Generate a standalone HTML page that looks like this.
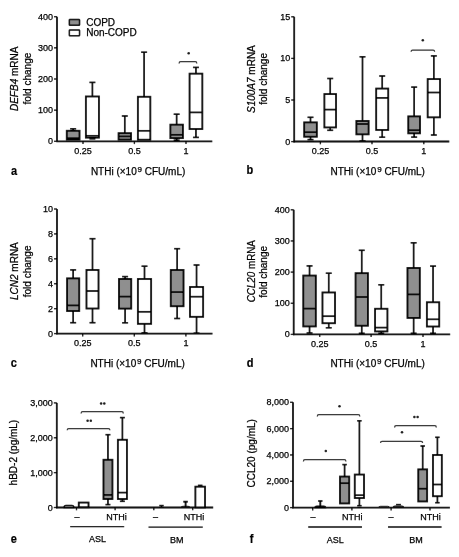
<!DOCTYPE html>
<html><head><meta charset="utf-8"><style>
html,body{margin:0;padding:0;background:#fff;}
svg{display:block;}
text{font-family:"Liberation Sans", sans-serif;fill:#000;stroke:#000;stroke-width:0.25px;}
</style></head><body>
<svg width="459" height="557" viewBox="0 0 459 557">
<defs><filter id="bl" x="0" y="0" width="100%" height="100%" filterUnits="userSpaceOnUse"><feConvolveMatrix order="3" kernelMatrix="0.00027 0.01580 0.00027 0.01580 0.93575 0.01580 0.00027 0.01580 0.00027" divisor="1" edgeMode="duplicate" preserveAlpha="true"/></filter>
<filter id="bt" x="0" y="0" width="100%" height="100%" filterUnits="userSpaceOnUse"><feConvolveMatrix order="3" kernelMatrix="0.00001 0.00381 0.00001 0.00381 0.98471 0.00381 0.00001 0.00381 0.00001" divisor="1" edgeMode="duplicate" preserveAlpha="false"/></filter></defs>
<rect width="459" height="557" fill="#fff"/>
<g filter="url(#bl)">
<rect width="459" height="557" fill="#fff"/>
<line x1="57.00" y1="16.70" x2="57.00" y2="142.05" stroke="#000" stroke-width="1.8"/>
<line x1="54.00" y1="16.70" x2="57.00" y2="16.70" stroke="#000" stroke-width="1.3"/>
<line x1="54.00" y1="47.85" x2="57.00" y2="47.85" stroke="#000" stroke-width="1.3"/>
<line x1="54.00" y1="79.00" x2="57.00" y2="79.00" stroke="#000" stroke-width="1.3"/>
<line x1="54.00" y1="110.15" x2="57.00" y2="110.15" stroke="#000" stroke-width="1.3"/>
<line x1="54.00" y1="141.30" x2="57.00" y2="141.30" stroke="#000" stroke-width="1.3"/>
<line x1="56.25" y1="141.30" x2="212.30" y2="141.30" stroke="#000" stroke-width="1.8"/>
<line x1="83.00" y1="141.30" x2="83.00" y2="144.10" stroke="#000" stroke-width="1.3"/>
<line x1="134.40" y1="141.30" x2="134.40" y2="144.10" stroke="#000" stroke-width="1.3"/>
<line x1="186.00" y1="141.30" x2="186.00" y2="144.10" stroke="#000" stroke-width="1.3"/>
<rect x="69.35" y="19.45" width="10.2" height="5.8" rx="0.6" fill="#8f8f8f" stroke="#000" stroke-width="1.5"/>
<rect x="69.35" y="29.95" width="10.2" height="5.8" rx="0.6" fill="#fff" stroke="#000" stroke-width="1.5"/>
<line x1="73.15" y1="128.80" x2="73.15" y2="130.78" stroke="#000" stroke-width="1.7"/>
<line x1="70.15" y1="128.80" x2="76.15" y2="128.80" stroke="#000" stroke-width="1.6"/>
<rect x="66.78" y="130.78" width="12.75" height="8.85" fill="#8f8f8f" stroke="#000" stroke-width="1.85"/>
<line x1="66.78" y1="138.20" x2="79.52" y2="138.20" stroke="#000" stroke-width="1.7"/>
<line x1="92.40" y1="82.40" x2="92.40" y2="96.48" stroke="#000" stroke-width="1.7"/>
<line x1="89.40" y1="82.40" x2="95.40" y2="82.40" stroke="#000" stroke-width="1.6"/>
<line x1="92.40" y1="137.62" x2="92.40" y2="138.80" stroke="#000" stroke-width="1.7"/>
<line x1="89.40" y1="138.80" x2="95.40" y2="138.80" stroke="#000" stroke-width="1.6"/>
<rect x="85.88" y="96.48" width="13.05" height="41.15" fill="#fff" stroke="#000" stroke-width="1.85"/>
<line x1="85.88" y1="135.80" x2="98.92" y2="135.80" stroke="#000" stroke-width="1.7"/>
<line x1="124.80" y1="116.00" x2="124.80" y2="133.18" stroke="#000" stroke-width="1.7"/>
<line x1="121.80" y1="116.00" x2="127.80" y2="116.00" stroke="#000" stroke-width="1.6"/>
<rect x="118.58" y="133.18" width="12.45" height="6.45" fill="#8f8f8f" stroke="#000" stroke-width="1.85"/>
<line x1="118.58" y1="136.40" x2="131.02" y2="136.40" stroke="#000" stroke-width="1.7"/>
<line x1="144.10" y1="52.20" x2="144.10" y2="96.78" stroke="#000" stroke-width="1.7"/>
<line x1="141.10" y1="52.20" x2="147.10" y2="52.20" stroke="#000" stroke-width="1.6"/>
<rect x="137.88" y="96.78" width="12.45" height="42.95" fill="#fff" stroke="#000" stroke-width="1.85"/>
<line x1="137.88" y1="130.80" x2="150.32" y2="130.80" stroke="#000" stroke-width="1.7"/>
<line x1="176.65" y1="114.20" x2="176.65" y2="124.67" stroke="#000" stroke-width="1.7"/>
<line x1="173.65" y1="114.20" x2="179.65" y2="114.20" stroke="#000" stroke-width="1.6"/>
<line x1="176.65" y1="138.12" x2="176.65" y2="140.20" stroke="#000" stroke-width="1.7"/>
<line x1="173.65" y1="140.20" x2="179.65" y2="140.20" stroke="#000" stroke-width="1.6"/>
<rect x="170.38" y="124.67" width="12.55" height="13.45" fill="#8f8f8f" stroke="#000" stroke-width="1.85"/>
<line x1="170.38" y1="134.80" x2="182.92" y2="134.80" stroke="#000" stroke-width="1.7"/>
<line x1="195.95" y1="67.40" x2="195.95" y2="73.67" stroke="#000" stroke-width="1.7"/>
<line x1="192.95" y1="67.40" x2="198.95" y2="67.40" stroke="#000" stroke-width="1.6"/>
<line x1="195.95" y1="129.02" x2="195.95" y2="137.40" stroke="#000" stroke-width="1.7"/>
<line x1="192.95" y1="137.40" x2="198.95" y2="137.40" stroke="#000" stroke-width="1.6"/>
<rect x="189.58" y="73.67" width="12.75" height="55.35" fill="#fff" stroke="#000" stroke-width="1.85"/>
<line x1="189.58" y1="112.40" x2="202.32" y2="112.40" stroke="#000" stroke-width="1.7"/>
<path d="M179.10,63.50 Q179.10,61.70 180.60,61.70 L195.30,61.70 Q196.80,61.70 196.80,63.50" fill="none" stroke="#2a2a2a" stroke-width="1.25"/>
<circle cx="188.70" cy="53.30" r="1.25" fill="#111"/>
<line x1="294.20" y1="16.80" x2="294.20" y2="142.35" stroke="#000" stroke-width="1.8"/>
<line x1="291.20" y1="16.80" x2="294.20" y2="16.80" stroke="#000" stroke-width="1.3"/>
<line x1="291.20" y1="58.40" x2="294.20" y2="58.40" stroke="#000" stroke-width="1.3"/>
<line x1="291.20" y1="100.00" x2="294.20" y2="100.00" stroke="#000" stroke-width="1.3"/>
<line x1="291.20" y1="141.60" x2="294.20" y2="141.60" stroke="#000" stroke-width="1.3"/>
<line x1="293.45" y1="141.50" x2="449.30" y2="141.50" stroke="#000" stroke-width="1.8"/>
<line x1="320.40" y1="141.50" x2="320.40" y2="144.30" stroke="#000" stroke-width="1.3"/>
<line x1="372.00" y1="141.50" x2="372.00" y2="144.30" stroke="#000" stroke-width="1.3"/>
<line x1="423.80" y1="141.50" x2="423.80" y2="144.30" stroke="#000" stroke-width="1.3"/>
<line x1="310.50" y1="117.30" x2="310.50" y2="122.38" stroke="#000" stroke-width="1.7"/>
<line x1="307.50" y1="117.30" x2="313.50" y2="117.30" stroke="#000" stroke-width="1.6"/>
<line x1="310.50" y1="136.72" x2="310.50" y2="139.60" stroke="#000" stroke-width="1.7"/>
<line x1="307.50" y1="139.60" x2="313.50" y2="139.60" stroke="#000" stroke-width="1.6"/>
<rect x="304.18" y="122.38" width="12.65" height="14.35" fill="#8f8f8f" stroke="#000" stroke-width="1.85"/>
<line x1="304.18" y1="132.20" x2="316.82" y2="132.20" stroke="#000" stroke-width="1.7"/>
<line x1="330.20" y1="78.50" x2="330.20" y2="94.08" stroke="#000" stroke-width="1.7"/>
<line x1="327.20" y1="78.50" x2="333.20" y2="78.50" stroke="#000" stroke-width="1.6"/>
<line x1="330.20" y1="127.42" x2="330.20" y2="130.30" stroke="#000" stroke-width="1.7"/>
<line x1="327.20" y1="130.30" x2="333.20" y2="130.30" stroke="#000" stroke-width="1.6"/>
<rect x="324.38" y="94.08" width="11.65" height="33.35" fill="#fff" stroke="#000" stroke-width="1.85"/>
<line x1="324.38" y1="109.60" x2="336.03" y2="109.60" stroke="#000" stroke-width="1.7"/>
<line x1="362.50" y1="56.80" x2="362.50" y2="120.98" stroke="#000" stroke-width="1.7"/>
<line x1="359.50" y1="56.80" x2="365.50" y2="56.80" stroke="#000" stroke-width="1.6"/>
<line x1="362.50" y1="134.32" x2="362.50" y2="140.80" stroke="#000" stroke-width="1.7"/>
<line x1="359.50" y1="140.80" x2="365.50" y2="140.80" stroke="#000" stroke-width="1.6"/>
<rect x="356.38" y="120.98" width="12.25" height="13.35" fill="#8f8f8f" stroke="#000" stroke-width="1.85"/>
<line x1="356.38" y1="124.00" x2="368.62" y2="124.00" stroke="#000" stroke-width="1.7"/>
<line x1="382.20" y1="76.00" x2="382.20" y2="88.58" stroke="#000" stroke-width="1.7"/>
<line x1="379.20" y1="76.00" x2="385.20" y2="76.00" stroke="#000" stroke-width="1.6"/>
<line x1="382.20" y1="129.92" x2="382.20" y2="137.20" stroke="#000" stroke-width="1.7"/>
<line x1="379.20" y1="137.20" x2="385.20" y2="137.20" stroke="#000" stroke-width="1.6"/>
<rect x="376.18" y="88.58" width="12.05" height="41.35" fill="#fff" stroke="#000" stroke-width="1.85"/>
<line x1="376.18" y1="97.90" x2="388.23" y2="97.90" stroke="#000" stroke-width="1.7"/>
<line x1="414.15" y1="87.10" x2="414.15" y2="116.38" stroke="#000" stroke-width="1.7"/>
<line x1="411.15" y1="87.10" x2="417.15" y2="87.10" stroke="#000" stroke-width="1.6"/>
<line x1="414.15" y1="133.32" x2="414.15" y2="137.10" stroke="#000" stroke-width="1.7"/>
<line x1="411.15" y1="137.10" x2="417.15" y2="137.10" stroke="#000" stroke-width="1.6"/>
<rect x="408.27" y="116.38" width="11.75" height="16.95" fill="#8f8f8f" stroke="#000" stroke-width="1.85"/>
<line x1="408.27" y1="130.20" x2="420.03" y2="130.20" stroke="#000" stroke-width="1.7"/>
<line x1="433.85" y1="55.90" x2="433.85" y2="79.08" stroke="#000" stroke-width="1.7"/>
<line x1="430.85" y1="55.90" x2="436.85" y2="55.90" stroke="#000" stroke-width="1.6"/>
<line x1="433.85" y1="117.33" x2="433.85" y2="135.00" stroke="#000" stroke-width="1.7"/>
<line x1="430.85" y1="135.00" x2="436.85" y2="135.00" stroke="#000" stroke-width="1.6"/>
<rect x="427.68" y="79.08" width="12.35" height="38.25" fill="#fff" stroke="#000" stroke-width="1.85"/>
<line x1="427.68" y1="92.50" x2="440.03" y2="92.50" stroke="#000" stroke-width="1.7"/>
<path d="M411.10,51.80 Q411.10,50.00 412.60,50.00 L433.10,50.00 Q434.60,50.00 434.60,51.80" fill="none" stroke="#2a2a2a" stroke-width="1.25"/>
<circle cx="422.80" cy="40.30" r="1.25" fill="#111"/>
<g transform="translate(0,0.4)">
<line x1="57.00" y1="208.60" x2="57.00" y2="333.95" stroke="#000" stroke-width="1.8"/>
<line x1="54.00" y1="208.60" x2="57.00" y2="208.60" stroke="#000" stroke-width="1.3"/>
<line x1="54.00" y1="233.52" x2="57.00" y2="233.52" stroke="#000" stroke-width="1.3"/>
<line x1="54.00" y1="258.44" x2="57.00" y2="258.44" stroke="#000" stroke-width="1.3"/>
<line x1="54.00" y1="283.36" x2="57.00" y2="283.36" stroke="#000" stroke-width="1.3"/>
<line x1="54.00" y1="308.28" x2="57.00" y2="308.28" stroke="#000" stroke-width="1.3"/>
<line x1="54.00" y1="333.20" x2="57.00" y2="333.20" stroke="#000" stroke-width="1.3"/>
<line x1="56.25" y1="333.20" x2="212.50" y2="333.20" stroke="#000" stroke-width="1.8"/>
<line x1="82.70" y1="333.20" x2="82.70" y2="336.00" stroke="#000" stroke-width="1.3"/>
<line x1="134.30" y1="333.20" x2="134.30" y2="336.00" stroke="#000" stroke-width="1.3"/>
<line x1="185.90" y1="333.20" x2="185.90" y2="336.00" stroke="#000" stroke-width="1.3"/>
<line x1="73.15" y1="269.50" x2="73.15" y2="277.97" stroke="#000" stroke-width="1.7"/>
<line x1="70.15" y1="269.50" x2="76.15" y2="269.50" stroke="#000" stroke-width="1.6"/>
<line x1="73.15" y1="310.62" x2="73.15" y2="322.30" stroke="#000" stroke-width="1.7"/>
<line x1="70.15" y1="322.30" x2="76.15" y2="322.30" stroke="#000" stroke-width="1.6"/>
<rect x="67.08" y="277.97" width="12.15" height="32.65" fill="#8f8f8f" stroke="#000" stroke-width="1.85"/>
<line x1="67.08" y1="305.00" x2="79.22" y2="305.00" stroke="#000" stroke-width="1.7"/>
<line x1="92.50" y1="238.30" x2="92.50" y2="269.57" stroke="#000" stroke-width="1.7"/>
<line x1="89.50" y1="238.30" x2="95.50" y2="238.30" stroke="#000" stroke-width="1.6"/>
<line x1="92.50" y1="308.12" x2="92.50" y2="322.30" stroke="#000" stroke-width="1.7"/>
<line x1="89.50" y1="322.30" x2="95.50" y2="322.30" stroke="#000" stroke-width="1.6"/>
<rect x="86.48" y="269.57" width="12.05" height="38.55" fill="#fff" stroke="#000" stroke-width="1.85"/>
<line x1="86.48" y1="290.60" x2="98.52" y2="290.60" stroke="#000" stroke-width="1.7"/>
<line x1="125.10" y1="276.20" x2="125.10" y2="278.57" stroke="#000" stroke-width="1.7"/>
<line x1="122.10" y1="276.20" x2="128.10" y2="276.20" stroke="#000" stroke-width="1.6"/>
<line x1="125.10" y1="308.23" x2="125.10" y2="322.40" stroke="#000" stroke-width="1.7"/>
<line x1="122.10" y1="322.40" x2="128.10" y2="322.40" stroke="#000" stroke-width="1.6"/>
<rect x="118.98" y="278.57" width="12.25" height="29.65" fill="#8f8f8f" stroke="#000" stroke-width="1.85"/>
<line x1="118.98" y1="296.20" x2="131.22" y2="296.20" stroke="#000" stroke-width="1.7"/>
<line x1="144.50" y1="265.80" x2="144.50" y2="278.57" stroke="#000" stroke-width="1.7"/>
<line x1="141.50" y1="265.80" x2="147.50" y2="265.80" stroke="#000" stroke-width="1.6"/>
<line x1="144.50" y1="323.43" x2="144.50" y2="332.40" stroke="#000" stroke-width="1.7"/>
<line x1="141.50" y1="332.40" x2="147.50" y2="332.40" stroke="#000" stroke-width="1.6"/>
<rect x="137.88" y="278.57" width="13.25" height="44.85" fill="#fff" stroke="#000" stroke-width="1.85"/>
<line x1="137.88" y1="311.40" x2="151.12" y2="311.40" stroke="#000" stroke-width="1.7"/>
<line x1="177.15" y1="248.30" x2="177.15" y2="269.57" stroke="#000" stroke-width="1.7"/>
<line x1="174.15" y1="248.30" x2="180.15" y2="248.30" stroke="#000" stroke-width="1.6"/>
<line x1="177.15" y1="305.82" x2="177.15" y2="318.10" stroke="#000" stroke-width="1.7"/>
<line x1="174.15" y1="318.10" x2="180.15" y2="318.10" stroke="#000" stroke-width="1.6"/>
<rect x="170.78" y="269.57" width="12.75" height="36.25" fill="#8f8f8f" stroke="#000" stroke-width="1.85"/>
<line x1="170.78" y1="291.70" x2="183.52" y2="291.70" stroke="#000" stroke-width="1.7"/>
<line x1="196.55" y1="264.60" x2="196.55" y2="286.57" stroke="#000" stroke-width="1.7"/>
<line x1="193.55" y1="264.60" x2="199.55" y2="264.60" stroke="#000" stroke-width="1.6"/>
<line x1="196.55" y1="316.43" x2="196.55" y2="332.80" stroke="#000" stroke-width="1.7"/>
<line x1="193.55" y1="332.80" x2="199.55" y2="332.80" stroke="#000" stroke-width="1.6"/>
<rect x="189.98" y="286.57" width="13.15" height="29.85" fill="#fff" stroke="#000" stroke-width="1.85"/>
<line x1="189.98" y1="296.30" x2="203.12" y2="296.30" stroke="#000" stroke-width="1.7"/>
</g>
<line x1="293.70" y1="209.80" x2="293.70" y2="335.15" stroke="#000" stroke-width="1.8"/>
<line x1="290.70" y1="209.80" x2="293.70" y2="209.80" stroke="#000" stroke-width="1.3"/>
<line x1="290.70" y1="240.95" x2="293.70" y2="240.95" stroke="#000" stroke-width="1.3"/>
<line x1="290.70" y1="272.10" x2="293.70" y2="272.10" stroke="#000" stroke-width="1.3"/>
<line x1="290.70" y1="303.25" x2="293.70" y2="303.25" stroke="#000" stroke-width="1.3"/>
<line x1="290.70" y1="334.40" x2="293.70" y2="334.40" stroke="#000" stroke-width="1.3"/>
<line x1="292.95" y1="334.30" x2="450.20" y2="334.30" stroke="#000" stroke-width="1.8"/>
<line x1="319.70" y1="334.30" x2="319.70" y2="337.10" stroke="#000" stroke-width="1.3"/>
<line x1="371.10" y1="334.30" x2="371.10" y2="337.10" stroke="#000" stroke-width="1.3"/>
<line x1="423.00" y1="334.30" x2="423.00" y2="337.10" stroke="#000" stroke-width="1.3"/>
<line x1="309.55" y1="265.90" x2="309.55" y2="275.57" stroke="#000" stroke-width="1.7"/>
<line x1="306.55" y1="265.90" x2="312.55" y2="265.90" stroke="#000" stroke-width="1.6"/>
<line x1="309.55" y1="326.43" x2="309.55" y2="333.00" stroke="#000" stroke-width="1.7"/>
<line x1="306.55" y1="333.00" x2="312.55" y2="333.00" stroke="#000" stroke-width="1.6"/>
<rect x="303.27" y="275.57" width="12.55" height="50.85" fill="#8f8f8f" stroke="#000" stroke-width="1.85"/>
<line x1="303.27" y1="308.60" x2="315.82" y2="308.60" stroke="#000" stroke-width="1.7"/>
<line x1="328.75" y1="273.20" x2="328.75" y2="292.47" stroke="#000" stroke-width="1.7"/>
<line x1="325.75" y1="273.20" x2="331.75" y2="273.20" stroke="#000" stroke-width="1.6"/>
<line x1="328.75" y1="323.23" x2="328.75" y2="327.80" stroke="#000" stroke-width="1.7"/>
<line x1="325.75" y1="327.80" x2="331.75" y2="327.80" stroke="#000" stroke-width="1.6"/>
<rect x="322.47" y="292.47" width="12.55" height="30.75" fill="#fff" stroke="#000" stroke-width="1.85"/>
<line x1="322.47" y1="316.20" x2="335.03" y2="316.20" stroke="#000" stroke-width="1.7"/>
<line x1="361.75" y1="250.30" x2="361.75" y2="273.18" stroke="#000" stroke-width="1.7"/>
<line x1="358.75" y1="250.30" x2="364.75" y2="250.30" stroke="#000" stroke-width="1.6"/>
<line x1="361.75" y1="325.73" x2="361.75" y2="333.30" stroke="#000" stroke-width="1.7"/>
<line x1="358.75" y1="333.30" x2="364.75" y2="333.30" stroke="#000" stroke-width="1.6"/>
<rect x="355.57" y="273.18" width="12.35" height="52.55" fill="#8f8f8f" stroke="#000" stroke-width="1.85"/>
<line x1="355.57" y1="297.00" x2="367.93" y2="297.00" stroke="#000" stroke-width="1.7"/>
<line x1="381.25" y1="284.80" x2="381.25" y2="308.77" stroke="#000" stroke-width="1.7"/>
<line x1="378.25" y1="284.80" x2="384.25" y2="284.80" stroke="#000" stroke-width="1.6"/>
<line x1="381.25" y1="331.43" x2="381.25" y2="333.30" stroke="#000" stroke-width="1.7"/>
<line x1="378.25" y1="333.30" x2="384.25" y2="333.30" stroke="#000" stroke-width="1.6"/>
<rect x="375.07" y="308.77" width="12.35" height="22.65" fill="#fff" stroke="#000" stroke-width="1.85"/>
<line x1="375.07" y1="327.60" x2="387.43" y2="327.60" stroke="#000" stroke-width="1.7"/>
<line x1="413.65" y1="242.80" x2="413.65" y2="267.97" stroke="#000" stroke-width="1.7"/>
<line x1="410.65" y1="242.80" x2="416.65" y2="242.80" stroke="#000" stroke-width="1.6"/>
<line x1="413.65" y1="317.93" x2="413.65" y2="333.30" stroke="#000" stroke-width="1.7"/>
<line x1="410.65" y1="333.30" x2="416.65" y2="333.30" stroke="#000" stroke-width="1.6"/>
<rect x="407.47" y="267.97" width="12.35" height="49.95" fill="#8f8f8f" stroke="#000" stroke-width="1.85"/>
<line x1="407.47" y1="294.40" x2="419.82" y2="294.40" stroke="#000" stroke-width="1.7"/>
<line x1="433.05" y1="266.10" x2="433.05" y2="302.27" stroke="#000" stroke-width="1.7"/>
<line x1="430.05" y1="266.10" x2="436.05" y2="266.10" stroke="#000" stroke-width="1.6"/>
<line x1="433.05" y1="326.53" x2="433.05" y2="333.30" stroke="#000" stroke-width="1.7"/>
<line x1="430.05" y1="333.30" x2="436.05" y2="333.30" stroke="#000" stroke-width="1.6"/>
<rect x="426.88" y="302.27" width="12.35" height="24.25" fill="#fff" stroke="#000" stroke-width="1.85"/>
<line x1="426.88" y1="319.30" x2="439.23" y2="319.30" stroke="#000" stroke-width="1.7"/>
<line x1="56.80" y1="402.90" x2="56.80" y2="508.26" stroke="#000" stroke-width="1.8"/>
<line x1="53.80" y1="402.90" x2="56.80" y2="402.90" stroke="#000" stroke-width="1.3"/>
<line x1="53.80" y1="437.77" x2="56.80" y2="437.77" stroke="#000" stroke-width="1.3"/>
<line x1="53.80" y1="472.64" x2="56.80" y2="472.64" stroke="#000" stroke-width="1.3"/>
<line x1="53.80" y1="507.51" x2="56.80" y2="507.51" stroke="#000" stroke-width="1.3"/>
<line x1="56.05" y1="507.50" x2="213.20" y2="507.50" stroke="#000" stroke-width="1.8"/>
<line x1="76.50" y1="507.50" x2="76.50" y2="510.30" stroke="#000" stroke-width="1.3"/>
<line x1="115.10" y1="507.50" x2="115.10" y2="510.30" stroke="#000" stroke-width="1.3"/>
<line x1="153.80" y1="507.50" x2="153.80" y2="510.30" stroke="#000" stroke-width="1.3"/>
<line x1="192.70" y1="507.50" x2="192.70" y2="510.30" stroke="#000" stroke-width="1.3"/>
<line x1="70.20" y1="526.70" x2="124.20" y2="526.70" stroke="#000" stroke-width="1.3"/>
<line x1="148.50" y1="527.20" x2="202.80" y2="527.20" stroke="#000" stroke-width="1.3"/>
<path d="M64.00,507.50 Q64.00,505.40 66.00,505.40 L71.90,505.40 Q73.90,505.40 73.90,507.50 Z" fill="#8f8f8f" stroke="#000" stroke-width="1.3"/>
<rect x="78.78" y="502.57" width="9.75" height="4.65" fill="#fff" stroke="#000" stroke-width="1.85"/>
<line x1="107.95" y1="434.70" x2="107.95" y2="459.77" stroke="#000" stroke-width="1.7"/>
<line x1="105.45" y1="434.70" x2="110.45" y2="434.70" stroke="#000" stroke-width="1.6"/>
<line x1="107.95" y1="499.03" x2="107.95" y2="504.60" stroke="#000" stroke-width="1.7"/>
<line x1="105.45" y1="504.60" x2="110.45" y2="504.60" stroke="#000" stroke-width="1.6"/>
<rect x="103.48" y="459.77" width="8.95" height="39.25" fill="#8f8f8f" stroke="#000" stroke-width="1.85"/>
<line x1="103.48" y1="494.90" x2="112.42" y2="494.90" stroke="#000" stroke-width="1.7"/>
<line x1="122.40" y1="417.60" x2="122.40" y2="439.77" stroke="#000" stroke-width="1.7"/>
<line x1="119.90" y1="417.60" x2="124.90" y2="417.60" stroke="#000" stroke-width="1.6"/>
<line x1="122.40" y1="499.03" x2="122.40" y2="501.30" stroke="#000" stroke-width="1.7"/>
<line x1="119.90" y1="501.30" x2="124.90" y2="501.30" stroke="#000" stroke-width="1.6"/>
<rect x="117.88" y="439.77" width="9.05" height="59.25" fill="#fff" stroke="#000" stroke-width="1.85"/>
<line x1="117.88" y1="492.60" x2="126.92" y2="492.60" stroke="#000" stroke-width="1.7"/>
<line x1="161.50" y1="505.60" x2="161.50" y2="507.00" stroke="#000" stroke-width="1.5"/>
<line x1="159.30" y1="505.60" x2="163.70" y2="505.60" stroke="#000" stroke-width="1.6"/>
<path d="M181.00,507.50 Q181.00,506.30 183.00,506.30 L188.00,506.30 Q190.00,506.30 190.00,507.50 Z" fill="#8f8f8f" stroke="#000" stroke-width="1.0"/>
<line x1="185.60" y1="501.70" x2="185.60" y2="507.00" stroke="#000" stroke-width="1.85"/>
<line x1="183.30" y1="501.70" x2="187.80" y2="501.70" stroke="#000" stroke-width="1.85"/>
<line x1="200.20" y1="485.40" x2="200.20" y2="486.68" stroke="#000" stroke-width="1.7"/>
<line x1="197.90" y1="485.40" x2="202.50" y2="485.40" stroke="#000" stroke-width="1.6"/>
<rect x="195.38" y="486.68" width="9.65" height="20.75" fill="#fff" stroke="#000" stroke-width="1.85"/>
<path d="M67.20,430.30 Q67.20,428.50 68.70,428.50 L108.40,428.50 Q109.90,428.50 109.90,430.30" fill="none" stroke="#2a2a2a" stroke-width="1.25"/>
<circle cx="87.60" cy="420.80" r="1.25" fill="#111"/>
<circle cx="90.80" cy="420.80" r="1.25" fill="#111"/>
<path d="M81.10,413.40 Q81.10,411.60 82.60,411.60 L121.80,411.60 Q123.30,411.60 123.30,413.40" fill="none" stroke="#2a2a2a" stroke-width="1.25"/>
<circle cx="101.10" cy="403.50" r="1.25" fill="#111"/>
<circle cx="104.30" cy="403.50" r="1.25" fill="#111"/>
<line x1="293.00" y1="402.30" x2="293.00" y2="508.35" stroke="#000" stroke-width="1.8"/>
<line x1="290.00" y1="402.30" x2="293.00" y2="402.30" stroke="#000" stroke-width="1.3"/>
<line x1="290.00" y1="428.62" x2="293.00" y2="428.62" stroke="#000" stroke-width="1.3"/>
<line x1="290.00" y1="454.95" x2="293.00" y2="454.95" stroke="#000" stroke-width="1.3"/>
<line x1="290.00" y1="481.27" x2="293.00" y2="481.27" stroke="#000" stroke-width="1.3"/>
<line x1="290.00" y1="507.60" x2="293.00" y2="507.60" stroke="#000" stroke-width="1.3"/>
<line x1="292.25" y1="507.60" x2="449.90" y2="507.60" stroke="#000" stroke-width="1.8"/>
<line x1="312.70" y1="507.60" x2="312.70" y2="510.40" stroke="#000" stroke-width="1.3"/>
<line x1="351.90" y1="507.60" x2="351.90" y2="510.40" stroke="#000" stroke-width="1.3"/>
<line x1="391.10" y1="507.60" x2="391.10" y2="510.40" stroke="#000" stroke-width="1.3"/>
<line x1="430.00" y1="507.60" x2="430.00" y2="510.40" stroke="#000" stroke-width="1.3"/>
<line x1="308.20" y1="527.00" x2="362.00" y2="527.00" stroke="#000" stroke-width="1.3"/>
<line x1="388.00" y1="527.00" x2="441.60" y2="527.00" stroke="#000" stroke-width="1.3"/>
<path d="M314.90,507.50 Q314.90,506.10 316.90,506.10 L323.80,506.10 Q325.80,506.10 325.80,507.50 Z" fill="#8f8f8f" stroke="#000" stroke-width="1.3"/>
<line x1="320.30" y1="501.00" x2="320.30" y2="506.50" stroke="#000" stroke-width="1.85"/>
<line x1="318.10" y1="501.00" x2="322.50" y2="501.00" stroke="#000" stroke-width="1.6"/>
<line x1="344.60" y1="464.60" x2="344.60" y2="476.57" stroke="#000" stroke-width="1.7"/>
<line x1="342.35" y1="464.60" x2="346.85" y2="464.60" stroke="#000" stroke-width="1.6"/>
<rect x="339.97" y="476.57" width="9.25" height="26.85" fill="#8f8f8f" stroke="#000" stroke-width="1.85"/>
<line x1="339.97" y1="483.20" x2="349.23" y2="483.20" stroke="#000" stroke-width="1.7"/>
<line x1="359.40" y1="420.80" x2="359.40" y2="474.57" stroke="#000" stroke-width="1.7"/>
<line x1="357.15" y1="420.80" x2="361.65" y2="420.80" stroke="#000" stroke-width="1.6"/>
<line x1="359.40" y1="498.03" x2="359.40" y2="505.70" stroke="#000" stroke-width="1.7"/>
<line x1="357.15" y1="505.70" x2="361.65" y2="505.70" stroke="#000" stroke-width="1.6"/>
<rect x="354.77" y="474.57" width="9.25" height="23.45" fill="#fff" stroke="#000" stroke-width="1.85"/>
<line x1="354.77" y1="495.20" x2="364.03" y2="495.20" stroke="#000" stroke-width="1.7"/>
<path d="M378.60,507.40 Q378.60,506.30 380.60,506.30 L387.50,506.30 Q389.50,506.30 389.50,507.40 Z" fill="#8f8f8f" stroke="#000" stroke-width="0.9"/>
<path d="M393.10,507.40 Q393.10,506.00 395.10,506.00 L401.70,506.00 Q403.70,506.00 403.70,507.40 Z" fill="#8f8f8f" stroke="#000" stroke-width="1.2"/>
<line x1="396.00" y1="504.60" x2="401.00" y2="504.60" stroke="#000" stroke-width="1.5"/>
<line x1="422.70" y1="446.00" x2="422.70" y2="469.38" stroke="#000" stroke-width="1.7"/>
<line x1="420.45" y1="446.00" x2="424.95" y2="446.00" stroke="#000" stroke-width="1.6"/>
<rect x="418.27" y="469.38" width="8.85" height="32.05" fill="#8f8f8f" stroke="#000" stroke-width="1.85"/>
<line x1="418.27" y1="488.70" x2="427.12" y2="488.70" stroke="#000" stroke-width="1.7"/>
<line x1="437.40" y1="437.30" x2="437.40" y2="454.97" stroke="#000" stroke-width="1.7"/>
<line x1="435.15" y1="437.30" x2="439.65" y2="437.30" stroke="#000" stroke-width="1.6"/>
<line x1="437.40" y1="496.23" x2="437.40" y2="502.70" stroke="#000" stroke-width="1.7"/>
<line x1="435.15" y1="502.70" x2="439.65" y2="502.70" stroke="#000" stroke-width="1.6"/>
<rect x="432.97" y="454.97" width="8.85" height="41.25" fill="#fff" stroke="#000" stroke-width="1.85"/>
<line x1="432.97" y1="484.50" x2="441.82" y2="484.50" stroke="#000" stroke-width="1.7"/>
<path d="M303.40,461.40 Q303.40,459.60 304.90,459.60 L344.40,459.60 Q345.90,459.60 345.90,461.40" fill="none" stroke="#2a2a2a" stroke-width="1.25"/>
<circle cx="325.80" cy="451.00" r="1.25" fill="#111"/>
<path d="M317.30,416.40 Q317.30,414.60 318.80,414.60 L358.30,414.60 Q359.80,414.60 359.80,416.40" fill="none" stroke="#2a2a2a" stroke-width="1.25"/>
<circle cx="339.50" cy="406.30" r="1.25" fill="#111"/>
<path d="M380.50,443.10 Q380.50,441.30 382.00,441.30 L421.10,441.30 Q422.60,441.30 422.60,443.10" fill="none" stroke="#2a2a2a" stroke-width="1.25"/>
<circle cx="402.00" cy="432.20" r="1.25" fill="#111"/>
<path d="M394.60,427.50 Q394.60,425.70 396.10,425.70 L434.80,425.70 Q436.30,425.70 436.30,427.50" fill="none" stroke="#2a2a2a" stroke-width="1.25"/>
<circle cx="414.40" cy="417.00" r="1.25" fill="#111"/>
<circle cx="417.60" cy="417.00" r="1.25" fill="#111"/>
</g>
<g filter="url(#bt)">
<text x="53.00" y="19.70" font-size="9" text-anchor="end" font-weight="normal" font-style="normal" >400</text>
<text x="53.00" y="50.85" font-size="9" text-anchor="end" font-weight="normal" font-style="normal" >300</text>
<text x="53.00" y="82.00" font-size="9" text-anchor="end" font-weight="normal" font-style="normal" >200</text>
<text x="53.00" y="113.15" font-size="9" text-anchor="end" font-weight="normal" font-style="normal" >100</text>
<text x="53.00" y="144.30" font-size="9" text-anchor="end" font-weight="normal" font-style="normal" >0</text>
<text x="83.00" y="153.50" font-size="9" text-anchor="middle" font-weight="normal" font-style="normal" >0.25</text>
<text x="134.40" y="153.50" font-size="9" text-anchor="middle" font-weight="normal" font-style="normal" >0.5</text>
<text x="186.00" y="153.50" font-size="9" text-anchor="middle" font-weight="normal" font-style="normal" >1</text>
<text x="90.90" y="175.00" font-size="10">NTHi (×10<tspan font-size="8" dx="0.8" dy="-3.0">9</tspan><tspan dy="3.0"> CFU/mL)</tspan></text>
<text transform="translate(11.00,174.80) scale(0.92,1)" font-size="12" font-weight="bold" style="stroke-width:0.2px">a</text>
<text transform="translate(18.20,78.80) rotate(-90)" font-size="10" text-anchor="middle"><tspan font-style="italic">DEFB4</tspan><tspan font-style="normal"> mRNA</tspan></text>
<text transform="translate(30.60,78.60) rotate(-90)" font-size="10" text-anchor="middle"><tspan font-style="normal">fold change</tspan></text>
<text x="86.20" y="26.30" font-size="10" text-anchor="start" font-weight="normal" font-style="normal" >COPD</text>
<text x="86.20" y="36.30" font-size="10" text-anchor="start" font-weight="normal" font-style="normal" >Non-COPD</text>
<text x="290.20" y="19.80" font-size="9" text-anchor="end" font-weight="normal" font-style="normal" >15</text>
<text x="290.20" y="61.40" font-size="9" text-anchor="end" font-weight="normal" font-style="normal" >10</text>
<text x="290.20" y="103.00" font-size="9" text-anchor="end" font-weight="normal" font-style="normal" >5</text>
<text x="290.20" y="144.60" font-size="9" text-anchor="end" font-weight="normal" font-style="normal" >0</text>
<text x="320.40" y="153.70" font-size="9" text-anchor="middle" font-weight="normal" font-style="normal" >0.25</text>
<text x="372.00" y="153.70" font-size="9" text-anchor="middle" font-weight="normal" font-style="normal" >0.5</text>
<text x="423.80" y="153.70" font-size="9" text-anchor="middle" font-weight="normal" font-style="normal" >1</text>
<text x="330.50" y="175.10" font-size="10">NTHi (×10<tspan font-size="8" dx="0.8" dy="-3.0">9</tspan><tspan dy="3.0"> CFU/mL)</tspan></text>
<text transform="translate(246.40,174.30) scale(0.92,1)" font-size="12" font-weight="bold" style="stroke-width:0.2px">b</text>
<text transform="translate(255.00,79.10) rotate(-90)" font-size="10" text-anchor="middle"><tspan font-style="italic">S100A7</tspan><tspan font-style="normal"> mRNA</tspan></text>
<text transform="translate(267.20,78.90) rotate(-90)" font-size="10" text-anchor="middle"><tspan font-style="normal">fold change</tspan></text>
<g transform="translate(0,0.4)">
<text x="53.00" y="211.60" font-size="9" text-anchor="end" font-weight="normal" font-style="normal" >10</text>
<text x="53.00" y="236.52" font-size="9" text-anchor="end" font-weight="normal" font-style="normal" >8</text>
<text x="53.00" y="261.44" font-size="9" text-anchor="end" font-weight="normal" font-style="normal" >6</text>
<text x="53.00" y="286.36" font-size="9" text-anchor="end" font-weight="normal" font-style="normal" >4</text>
<text x="53.00" y="311.28" font-size="9" text-anchor="end" font-weight="normal" font-style="normal" >2</text>
<text x="53.00" y="336.20" font-size="9" text-anchor="end" font-weight="normal" font-style="normal" >0</text>
<text x="82.70" y="345.30" font-size="9" text-anchor="middle" font-weight="normal" font-style="normal" >0.25</text>
<text x="134.30" y="345.30" font-size="9" text-anchor="middle" font-weight="normal" font-style="normal" >0.5</text>
<text x="185.90" y="345.30" font-size="9" text-anchor="middle" font-weight="normal" font-style="normal" >1</text>
<text x="90.40" y="366.90" font-size="10">NTHi (×10<tspan font-size="8" dx="0.8" dy="-3.0">9</tspan><tspan dy="3.0"> CFU/mL)</tspan></text>
<text transform="translate(10.80,366.90) scale(0.92,1)" font-size="12" font-weight="bold" style="stroke-width:0.2px">c</text>
<text transform="translate(18.20,270.70) rotate(-90)" font-size="10" text-anchor="middle"><tspan font-style="italic">LCN2</tspan><tspan font-style="normal"> mRNA</tspan></text>
<text transform="translate(30.60,271.00) rotate(-90)" font-size="10" text-anchor="middle"><tspan font-style="normal">fold change</tspan></text>
</g>
<text x="289.70" y="212.80" font-size="9" text-anchor="end" font-weight="normal" font-style="normal" >400</text>
<text x="289.70" y="243.95" font-size="9" text-anchor="end" font-weight="normal" font-style="normal" >300</text>
<text x="289.70" y="275.10" font-size="9" text-anchor="end" font-weight="normal" font-style="normal" >200</text>
<text x="289.70" y="306.25" font-size="9" text-anchor="end" font-weight="normal" font-style="normal" >100</text>
<text x="289.70" y="337.40" font-size="9" text-anchor="end" font-weight="normal" font-style="normal" >0</text>
<text x="319.70" y="346.50" font-size="9" text-anchor="middle" font-weight="normal" font-style="normal" >0.25</text>
<text x="371.10" y="346.50" font-size="9" text-anchor="middle" font-weight="normal" font-style="normal" >0.5</text>
<text x="423.00" y="346.50" font-size="9" text-anchor="middle" font-weight="normal" font-style="normal" >1</text>
<text x="330.40" y="367.30" font-size="10">NTHi (×10<tspan font-size="8" dx="0.8" dy="-3.0">9</tspan><tspan dy="3.0"> CFU/mL)</tspan></text>
<text transform="translate(246.70,367.20) scale(0.92,1)" font-size="12" font-weight="bold" style="stroke-width:0.2px">d</text>
<text transform="translate(254.50,271.20) rotate(-90)" font-size="10" text-anchor="middle" textLength="62" lengthAdjust="spacingAndGlyphs"><tspan font-style="italic">CCL20</tspan><tspan font-style="normal"> mRNA</tspan></text>
<text transform="translate(267.00,271.80) rotate(-90)" font-size="10" text-anchor="middle"><tspan font-style="normal">fold change</tspan></text>
<text x="52.80" y="405.90" font-size="9" text-anchor="end" font-weight="normal" font-style="normal" >3,000</text>
<text x="52.80" y="440.77" font-size="9" text-anchor="end" font-weight="normal" font-style="normal" >2,000</text>
<text x="52.80" y="475.64" font-size="9" text-anchor="end" font-weight="normal" font-style="normal" >1,000</text>
<text x="52.80" y="510.51" font-size="9" text-anchor="end" font-weight="normal" font-style="normal" >0</text>
<text x="76.90" y="519.50" font-size="9" text-anchor="middle" font-weight="normal" font-style="normal" >–</text>
<text x="116.40" y="519.70" font-size="9" text-anchor="middle" font-weight="normal" font-style="normal" >NTHi</text>
<text x="155.50" y="519.50" font-size="9" text-anchor="middle" font-weight="normal" font-style="normal" >–</text>
<text x="194.10" y="519.70" font-size="9" text-anchor="middle" font-weight="normal" font-style="normal" >NTHi</text>
<text x="97.50" y="542.40" font-size="9" text-anchor="middle" font-weight="normal" font-style="normal" >ASL</text>
<text x="176.80" y="542.50" font-size="9" text-anchor="middle" font-weight="normal" font-style="normal" >BM</text>
<text transform="translate(10.80,542.80) scale(0.92,1)" font-size="12" font-weight="bold" style="stroke-width:0.2px">e</text>
<text transform="translate(17.40,452.60) rotate(-90)" font-size="10" text-anchor="middle"><tspan font-style="normal">hBD-2 (pg/mL)</tspan></text>
<text x="289.00" y="405.30" font-size="9" text-anchor="end" font-weight="normal" font-style="normal" >8,000</text>
<text x="289.00" y="431.62" font-size="9" text-anchor="end" font-weight="normal" font-style="normal" >6,000</text>
<text x="289.00" y="457.95" font-size="9" text-anchor="end" font-weight="normal" font-style="normal" >4,000</text>
<text x="289.00" y="484.27" font-size="9" text-anchor="end" font-weight="normal" font-style="normal" >2,000</text>
<text x="289.00" y="510.60" font-size="9" text-anchor="end" font-weight="normal" font-style="normal" >0</text>
<text x="313.00" y="520.00" font-size="9" text-anchor="middle" font-weight="normal" font-style="normal" >–</text>
<text x="352.30" y="520.20" font-size="9" text-anchor="middle" font-weight="normal" font-style="normal" >NTHi</text>
<text x="391.00" y="520.00" font-size="9" text-anchor="middle" font-weight="normal" font-style="normal" >–</text>
<text x="430.40" y="520.20" font-size="9" text-anchor="middle" font-weight="normal" font-style="normal" >NTHi</text>
<text x="335.20" y="542.60" font-size="9" text-anchor="middle" font-weight="normal" font-style="normal" >ASL</text>
<text x="416.00" y="542.60" font-size="9" text-anchor="middle" font-weight="normal" font-style="normal" >BM</text>
<text transform="translate(249.70,542.60) scale(0.92,1)" font-size="12" font-weight="bold" style="stroke-width:0.2px">f</text>
<text transform="translate(254.50,453.30) rotate(-90)" font-size="10" text-anchor="middle"><tspan font-style="normal">CCL20 (pg/mL)</tspan></text>
</g>
</svg>
</body></html>
